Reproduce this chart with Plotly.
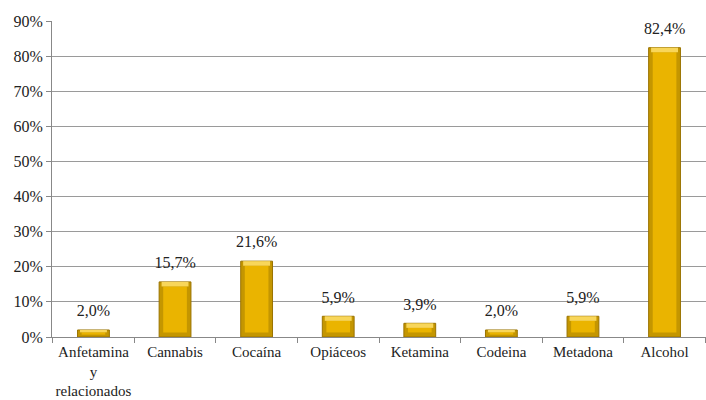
import plotly.graph_objects as go

categories = ["Anfetamina<br>y<br>relacionados", "Cannabis", "Cocaína", "Opiáceos",
              "Ketamina", "Codeina", "Metadona", "Alcohol"]
values = [2.0, 15.7, 21.6, 5.9, 3.9, 2.0, 5.9, 82.4]
y_ticks = [0, 10, 20, 30, 40, 50, 60, 70, 80, 90]
y_tick_labels = [f"{t}%" for t in y_ticks]

font_family = "Times New Roman, Liberation Serif, DejaVu Serif, serif"
text_color = "#222222"
font_size = 16
cap = 1.3     # bevel depth at top / bottom of each bar (in %)

def bevel(v):
    return min(cap, v / 3)

fig = go.Figure()

# darker outer shell of each bar (gives the bevelled edges)
fig.add_trace(go.Bar(
    x=categories, y=values, width=0.39,
    marker=dict(color="#C49600", line=dict(color="#9A7300", width=1)),
    hoverinfo="skip",
))
# gold face
fig.add_trace(go.Bar(
    x=categories, y=[v - 2 * bevel(v) for v in values],
    base=[bevel(v) for v in values], width=0.29,
    marker=dict(color="#EAB400", line=dict(width=0)),
    hoverinfo="skip",
))
# light top bevel
fig.add_trace(go.Bar(
    x=categories, y=[bevel(v) for v in values],
    base=[v - bevel(v) for v in values], width=0.33,
    marker=dict(color="#F8D65A", line=dict(width=0)),
    hoverinfo="skip",
))
# value labels above the bars (invisible markers keep the text clear of the bar)
fig.add_trace(go.Scatter(
    x=categories, y=values, mode="markers+text",
    marker=dict(size=14, opacity=0),
    text=[f"{v:.1f}%".replace(".", ",") for v in values],
    textposition="top center", cliponaxis=False,
    textfont=dict(family=font_family, size=font_size, color=text_color),
    hoverinfo="skip",
))

fig.update_layout(
    width=706, height=400,
    margin=dict(l=52, r=0, t=21, b=63),
    barmode="overlay",
    showlegend=False,
    plot_bgcolor="white", paper_bgcolor="white",
    font=dict(family=font_family, size=font_size, color=text_color),
    xaxis=dict(
        type="category", tickson="boundaries", ticks="outside", ticklen=5,
        tickangle=0, automargin=False, ticklabelstandoff=1,
        tickcolor="#888888", showline=True, linecolor="#888888", linewidth=1,
        showgrid=False, tickfont=dict(family=font_family, size=15, color=text_color),
    ),
    yaxis=dict(
        range=[0, 90], tickvals=y_ticks, ticktext=y_tick_labels,
        ticks="outside", ticklen=5, tickcolor="#888888", automargin=False,
        showline=True, linecolor="#888888", linewidth=1,
        showgrid=True, gridcolor="#9A9A9A", gridwidth=1,
        zeroline=False, fixedrange=True,
        tickfont=dict(family=font_family, size=font_size, color=text_color),
    ),
)

fig.write_html("out.html")
